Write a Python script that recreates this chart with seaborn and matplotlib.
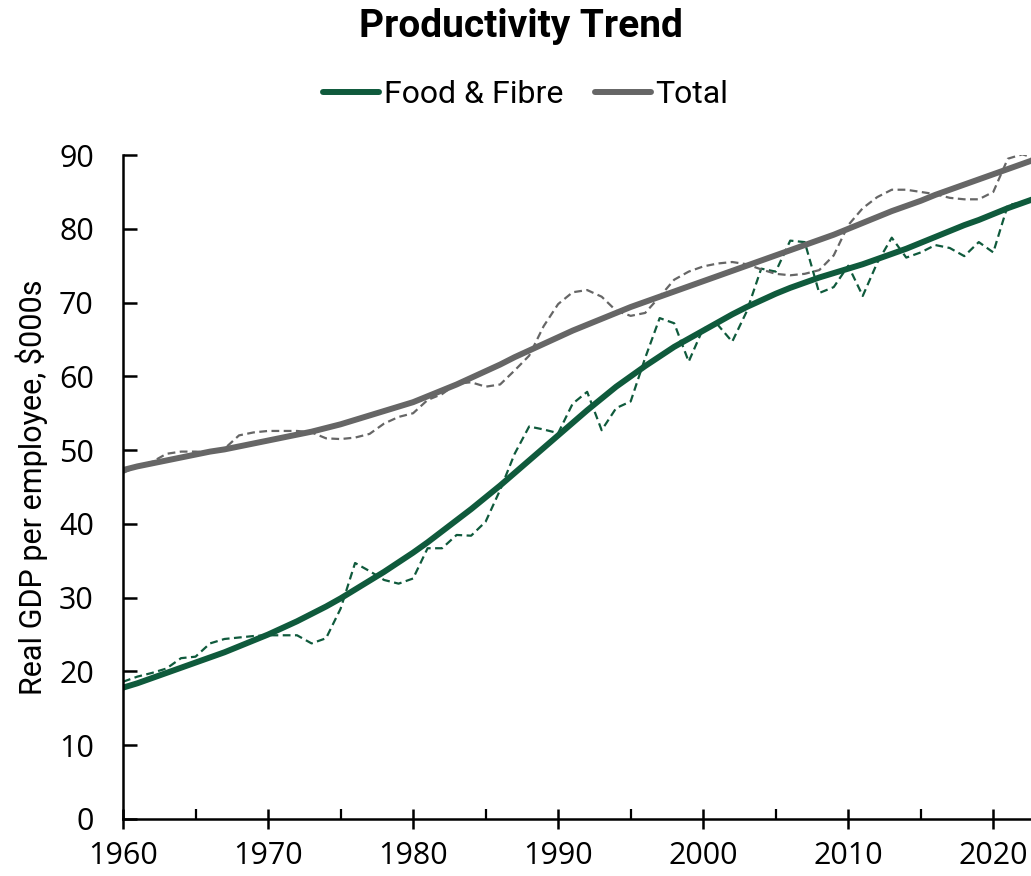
import numpy as np
import pandas as pd
import matplotlib
matplotlib.use("Agg")
import matplotlib.pyplot as plt
from matplotlib.ticker import MultipleLocator
import seaborn as sns

years = list(range(1960, 2024))

# annual values, $000s per employee
food_fibre = [18.6, 19.3, 19.8, 20.4, 21.8, 22.0, 23.8, 24.4, 24.6, 24.8,
              24.9, 24.9, 24.9, 23.8, 24.5, 28.5, 34.7, 33.6, 32.4, 31.9,
              32.6, 36.7, 36.7, 38.5, 38.4, 40.3, 44.6, 49.5, 53.2, 52.8,
              52.3, 56.3, 57.9, 52.7, 55.7, 56.6, 62.5, 67.9, 67.2, 62.0,
              66.5, 67.0, 64.7, 68.8, 74.6, 74.2, 78.4, 78.2, 71.3, 72.1,
              75.0, 70.9, 75.4, 78.8, 76.1, 76.8, 77.8, 77.4, 76.3, 78.2,
              76.8, 83.2, 83.6, 84.0]
total = [46.9, 47.8, 48.4, 49.5, 49.8, 49.8, 49.7, 50.2, 52.0, 52.4,
         52.6, 52.6, 52.6, 52.4, 51.6, 51.5, 51.7, 52.2, 53.6, 54.5,
         55.0, 56.8, 57.6, 59.0, 59.2, 58.6, 58.9, 60.8, 62.8, 66.8,
         69.8, 71.4, 71.7, 70.8, 68.9, 68.2, 68.6, 70.8, 73.1, 74.2,
         74.9, 75.3, 75.5, 75.2, 74.5, 73.9, 73.7, 73.9, 74.4, 76.4,
         80.5, 82.8, 84.3, 85.3, 85.3, 85.0, 84.7, 84.2, 84.0, 84.0,
         85.0, 89.5, 90.1, 89.5]

# trend lines
food_fibre_trend = [17.8, 18.4, 19.1, 19.8, 20.5, 21.2, 21.9, 22.6, 23.4, 24.2,
                    25.0, 25.9, 26.8, 27.8, 28.8, 29.9, 31.1, 32.3, 33.5, 34.8,
                    36.1, 37.5, 39.0, 40.5, 42.0, 43.6, 45.2, 46.9, 48.6, 50.3,
                    52.0, 53.7, 55.4, 57.0, 58.6, 60.0, 61.4, 62.7, 64.0, 65.1,
                    66.2, 67.3, 68.4, 69.4, 70.3, 71.2, 72.0, 72.7, 73.4, 74.0,
                    74.6, 75.2, 75.9, 76.6, 77.3, 78.1, 78.9, 79.7, 80.5, 81.2,
                    82.0, 82.8, 83.5, 84.2]
total_trend = [47.3, 47.8, 48.2, 48.6, 49.0, 49.4, 49.8, 50.1, 50.5, 50.9,
               51.3, 51.7, 52.1, 52.5, 53.0, 53.5, 54.1, 54.7, 55.3, 55.9,
               56.5, 57.3, 58.1, 58.9, 59.8, 60.7, 61.6, 62.6, 63.5, 64.4,
               65.3, 66.2, 67.0, 67.8, 68.6, 69.4, 70.1, 70.8, 71.5, 72.2,
               72.9, 73.6, 74.3, 75.0, 75.7, 76.4, 77.1, 77.8, 78.5, 79.2,
               80.0, 80.8, 81.6, 82.4, 83.1, 83.8, 84.6, 85.3, 86.0, 86.7,
               87.4, 88.1, 88.8, 89.5]

GREEN = "#0f5a3c"
GREY = "#666666"

sns.set_style("ticks")
plt.rcParams['font.family'] = ['Roboto', 'DejaVu Sans']
plt.rcParams['text.color'] = 'black'
plt.rcParams['axes.labelcolor'] = 'black'
plt.rcParams['xtick.color'] = 'black'
plt.rcParams['ytick.color'] = 'black'

df = pd.DataFrame({
    "year": years * 2,
    "value": food_fibre + total,
    "trend": food_fibre_trend + total_trend,
    "series": ["Food & Fibre"] * len(years) + ["Total"] * len(years),
})
palette = {"Food & Fibre": GREEN, "Total": GREY}

fig = plt.figure(figsize=(10.31, 8.76), dpi=100)
ax = fig.add_axes([0.1193, 0.0651, 0.8807, 0.7579])

sns.lineplot(data=df, x="year", y="value", hue="series", palette=palette,
             linewidth=1.6, dashes=False, legend=False, ax=ax,
             linestyle=(0, (3.5, 2)))
sns.lineplot(data=df, x="year", y="trend", hue="series", palette=palette,
             linewidth=4.3, ax=ax)

ax.set_xlim(1960, 2022.6)
ax.set_ylim(0, 90)
ax.xaxis.set_major_locator(MultipleLocator(10))
ax.xaxis.set_minor_locator(MultipleLocator(5))
ax.yaxis.set_major_locator(MultipleLocator(10))

for side in ["top", "right"]:
    ax.spines[side].set_visible(False)
for side in ["left", "bottom"]:
    ax.spines[side].set_linewidth(1.8)
    ax.spines[side].set_color("black")

tick_font = ['Open Sans', 'DejaVu Sans']
ax.tick_params(axis="x", which="major", direction="inout", length=14, width=1.8,
               pad=9, labelsize=22)
ax.tick_params(axis="x", which="minor", direction="in", length=7, width=1.6)
ax.tick_params(axis="y", which="major", direction="in", length=10, width=1.8,
               pad=21, labelsize=22)
for lbl in ax.get_xticklabels() + ax.get_yticklabels():
    lbl.set_family(tick_font)

ax.set_xlabel("")
ax.set_ylabel("Real GDP per employee, $000s", fontsize=22, labelpad=8)

ax.get_legend().remove()
handles = [plt.Line2D([], [], color=GREEN, linewidth=4.3, solid_capstyle="round"),
           plt.Line2D([], [], color=GREY, linewidth=4.3, solid_capstyle="round")]
fig.legend(handles, ["Food & Fibre", "Total"], loc="center",
           bbox_to_anchor=(0.51, 0.892), ncol=2, frameon=False, fontsize=23,
           handlelength=1.75, handletextpad=0.15, columnspacing=1.0)

fig.suptitle("Productivity Trend", fontsize=28, fontweight="bold", y=0.97,
             va="center", x=0.505)

fig.savefig("out.png", dpi=100)
